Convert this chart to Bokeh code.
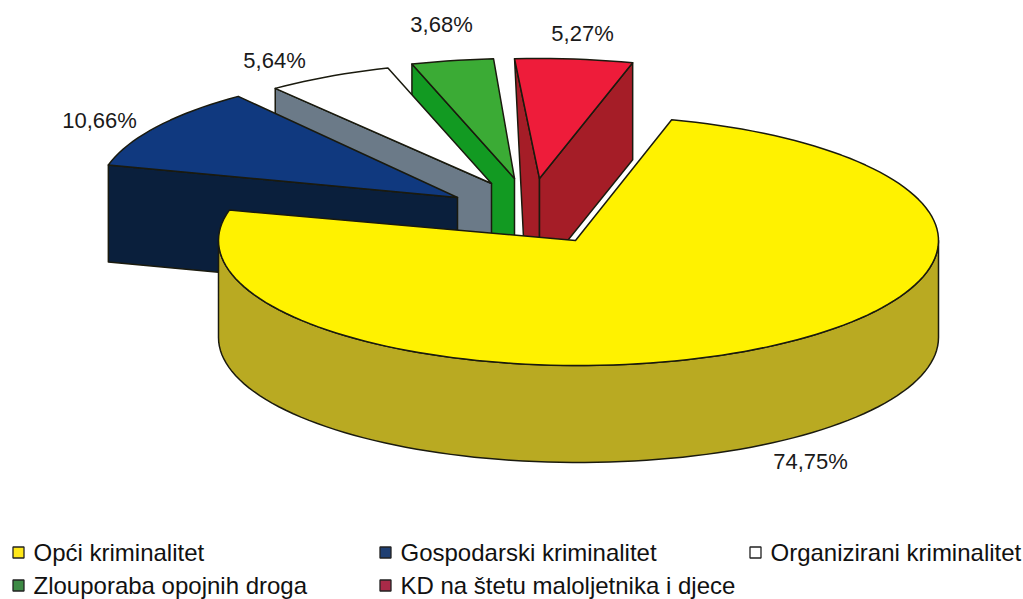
import numpy as np
from bokeh.plotting import figure
from bokeh.models import Range1d
from bokeh.core.properties import value
from bokeh.embed import file_html
from bokeh.resources import INLINE

# --- data ---
categories = ["Opći kriminalitet", "Gospodarski kriminalitet", "Organizirani kriminalitet",
              "Zlouporaba opojnih droga", "KD na štetu maloljetnika i djece"]
shares = [74.75, 10.66, 5.64, 3.68, 5.27]
value_labels = ["74,75%", "10,66%", "5,64%", "3,68%", "5,27%"]

# --- styles ---
top_colors = ["#fff200", "#10397f", "#ffffff", "#3bab35", "#ee1c3a"]
side_colors = ["#b9aa22", "#0a1f3c", "#6b7a88", "#129a22", "#a51d27"]
legend_colors = ["#ffe81a", "#1f3f73", "#ffffff", "#3d8a45", "#a82a48"]
legend_x = [13, 380, 750, 13, 380]
legend_y = [552, 552, 552, 585, 585]
label_x = [810, 99, 274, 441, 582]
label_y = [461, 120, 60, 24, 33]
FONT = "Liberation Sans"
OUT = "#1a1a0e"

# --- geometry (pixel-like data units) ---
CX, CY, RX, RY, DEPTH = 578, 240, 360, 125, 97
START = 75.0
offsets = [(0, 0), (-121, -45), (-84, -53), (-60, -57), (-39, -57)]
apex_shift = [(0, 0), (0, 2), (-3, -4), (-4, -5), (0, -5)]

p = figure(width=1023, height=599, x_range=Range1d(0, 1023), y_range=Range1d(599, 0),
           output_backend="svg", toolbar_location=None, min_border=0,
           background_fill_color="white", border_fill_color="white")
p.axis.visible = False
p.grid.visible = False
p.outline_line_color = None


def rim(a0, a1, ox=0, oy=0, dy=0, n=None):
    n = n or max(3, int(abs(a1 - a0) / 2) + 2)
    t = np.radians(np.linspace(a0, a1, n))
    return CX + ox + RX * np.cos(t), CY + oy + dy - RY * np.sin(t)


def poly(xs, ys, color, width=1.5):
    p.patch(list(xs), list(ys), fill_color=color, line_color=OUT, line_width=width,
            line_join="round")


# slice angle limits, clockwise from START
edges = START - np.cumsum([0] + [s * 3.6 for s in shares])
angles = [(edges[i], edges[i + 1]) for i in range(len(shares))]

# exploded slices, back to front: red, green, white, blue
for i in [4, 3, 2, 1]:
    a0, a1 = angles[i]
    ox, oy = offsets[i]
    ax, ay = CX + ox + apex_shift[i][0], CY + oy + apex_shift[i][1]
    rx, ry = rim(a0, a1, ox, oy)
    # rx[0] is the slice's left end on the rim, rx[-1] its right end
    if i == 4:
        # narrowed left wall and full right wall of the red slice
        lx, ly = rx[0], ry[0]
        poly([lx, ax, ax, lx + 11], [ly, ay, ay + DEPTH, ly + 220], side_colors[i])
        poly([rx[-1], ax, ax, rx[-1]], [ry[-1], ay, ay + DEPTH, ry[-1] + DEPTH], side_colors[i])
    else:
        poly([rx[0], ax, ax, rx[0]], [ry[0], ay, ay + DEPTH, ry[0] + DEPTH], side_colors[i])
    poly(np.r_[ax, rx], np.r_[ay, ry], top_colors[i])

# main yellow slice: side wall then top
sx, sy = rim(180, 360)
poly(np.r_[sx, sx[::-1]], np.r_[sy, sy[::-1] + DEPTH], side_colors[0])
a0, a1 = angles[0]
rx, ry = rim(a0, a1)
poly(np.r_[CX - 3, rx], np.r_[CY, ry], top_colors[0], 1.5)

# value labels
p.text(label_x, label_y, text=value_labels, text_font=value(FONT), text_font_size="22px",
       text_align="center", text_baseline="middle", text_color="#1a1a1a")

# legend
p.rect(np.array(legend_x) + 5, legend_y, width=11, height=11, fill_color=legend_colors,
       line_color="#222222", line_width=1.3)
p.text(np.array(legend_x) + 20, legend_y, text=categories, text_font=value(FONT),
       text_font_size="24px", text_align="left", text_baseline="middle", text_color="#111111")

open("out.html", "w").write(file_html(p, INLINE))
